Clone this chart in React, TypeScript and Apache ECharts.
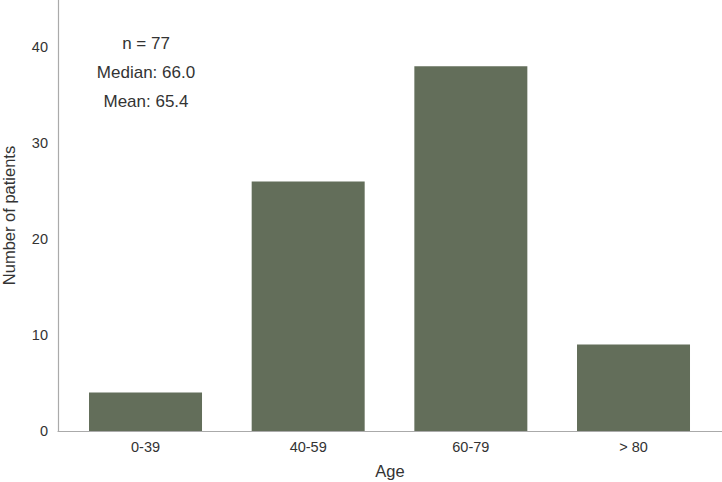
import React, { useEffect, useRef } from "react";
import * as echarts from "echarts";

const categories = ["0-39", "40-59", "60-79", "> 80"];
const patients = [4, 26, 38, 9];
const statsLines = ["n = 77", "Median: 66.0", "Mean: 65.4"];
const yTicks = [0, 10, 20, 30, 40];

export default function App() {
  const ref = useRef<HTMLDivElement>(null);
  useEffect(() => {
    if (!ref.current) return;
    const chart = echarts.init(ref.current, null, { renderer: "svg" });
    const font = "'Liberation Sans', Arial, sans-serif";
    const positions = categories.map((_, i) => i);
    chart.setOption({
      animation: false,
      textStyle: { fontFamily: font },
      grid: { left: 58, right: 0, top: 0, bottom: 51, outerBoundsMode: "none", containLabel: false },
      xAxis: {
        type: "value",
        min: -0.538,
        max: 3.544,
        name: "Age",
        nameLocation: "middle",
        nameGap: 31,
        nameTextStyle: { fontSize: 16.5, color: "#333", fontFamily: font },
        axisLine: { show: true, onZero: false, lineStyle: { color: "#aaaaaa", width: 1.2 } },
        axisTick: { show: false },
        axisLabel: {
          fontSize: 14.5,
          color: "#333",
          margin: 8,
          fontFamily: font,
          customValues: positions,
          formatter: (v: number) => categories[Math.round(v)] ?? "",
        },
        splitLine: { show: false },
      },
      yAxis: {
        type: "value",
        min: 0,
        max: 44.9,
        interval: 10,
        name: "Number of patients",
        nameLocation: "middle",
        nameGap: 41,
        nameTextStyle: { fontSize: 16.5, color: "#333", fontFamily: font },
        axisLine: { show: true, onZero: false, lineStyle: { color: "#aaaaaa", width: 1.2 } },
        axisTick: { show: false },
        axisLabel: {
          fontSize: 14.5,
          color: "#333",
          margin: 10,
          fontFamily: font,
          formatter: (v: number) => (yTicks.includes(v) ? String(v) : ""),
        },
        splitLine: { show: false },
      },
      series: [
        {
          type: "bar",
          data: patients.map((v, i) => [positions[i], v]),
          barWidth: 113,
          itemStyle: { color: "#636e5a" },
        },
      ],
      graphic: statsLines.map((t, i) => ({
        type: "text",
        x: 146,
        y: 43 + i * 29,
        style: {
          text: t,
          fontSize: 17,
          fill: "#333",
          fontFamily: font,
          textAlign: "center",
          textVerticalAlign: "middle",
        },
      })),
    });
    return () => chart.dispose();
  }, []);
  return <div ref={ref} style={{ width: 722, height: 482, position: "absolute", left: 0, top: 0 }} />;
}
